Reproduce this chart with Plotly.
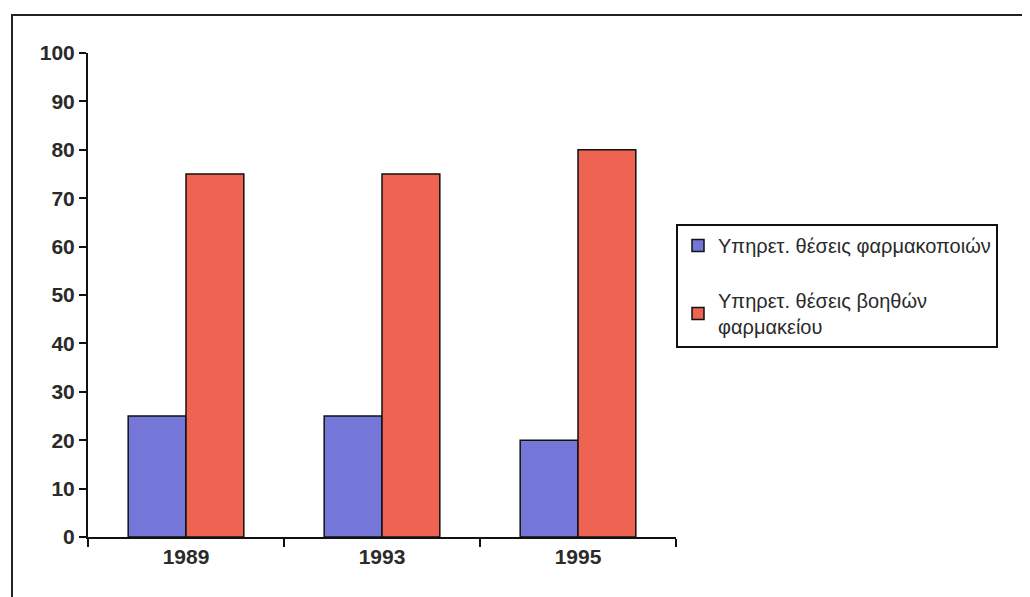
import plotly.graph_objects as go

years = ["1989", "1993", "1995"]
pharmacists = [25, 25, 20]
assistants = [75, 75, 80]
names = ["Υπηρετ. θέσεις φαρμακοποιών", "Υπηρετ. θέσεις βοηθών<br>φαρμακείου"]
yticks = [0, 10, 20, 30, 40, 50, 60, 70, 80, 90, 100]

# page body has an 8px margin, so figure coords = screen coords - 8
W, H = 1030, 597
L, T = 80, 45
R = W - 668
B = H - 529
pw = W - L - R
ph = H - T - B

fig = go.Figure()
fig.add_trace(go.Bar(x=years, y=pharmacists, name=names[0], legendgroup="a",
                     marker=dict(color="#7577D8", line=dict(color="#111", width=1.5))))
fig.add_trace(go.Bar(x=years, y=assistants, name=names[1], legendgroup="b",
                     marker=dict(color="#EE6352", line=dict(color="#111", width=1.5))))

def px_x(p):
    return (p - L) / pw

def px_y(p):
    return (H - B - p) / ph

fig.add_shape(type="rect", xref="paper", yref="paper",
              x0=px_x(4), x1=px_x(1040), y0=px_y(610), y1=px_y(7),
              line=dict(color="#222", width=2), layer="below")

fig.update_layout(
    width=W, height=H,
    margin=dict(l=L, r=R, t=T, b=B, autoexpand=False),
    paper_bgcolor="white", plot_bgcolor="white",
    barmode="group", bargap=0.41, bargroupgap=0,
    font=dict(family="Arial, Liberation Sans", color="#2a2a2a"),
    showlegend=True,
    legend=dict(x=px_x(668), xanchor="left", y=px_y(278), yanchor="middle",
                bordercolor="#111", borderwidth=2, bgcolor="white",
                font=dict(size=20, color="#2a2a2a"), tracegroupgap=26,
                traceorder="grouped", itemwidth=30),
)
fig.update_xaxes(type="category", showline=True, linecolor="#111", linewidth=2,
                 ticks="outside", tickson="boundaries", ticklen=8, tickwidth=2,
                 tickcolor="#111", showgrid=False,
                 tickfont=dict(size=21, family="Arial", weight="bold", color="#2a2a2a"))
fig.update_yaxes(range=[0, 100], tickvals=yticks, showline=True, linecolor="#111",
                 linewidth=2, ticks="outside", ticklen=7, tickwidth=2, tickcolor="#111",
                 showgrid=False, zeroline=False,
                 tickfont=dict(size=21, family="Arial", weight="bold", color="#2a2a2a"))

fig.write_html("out.html")
